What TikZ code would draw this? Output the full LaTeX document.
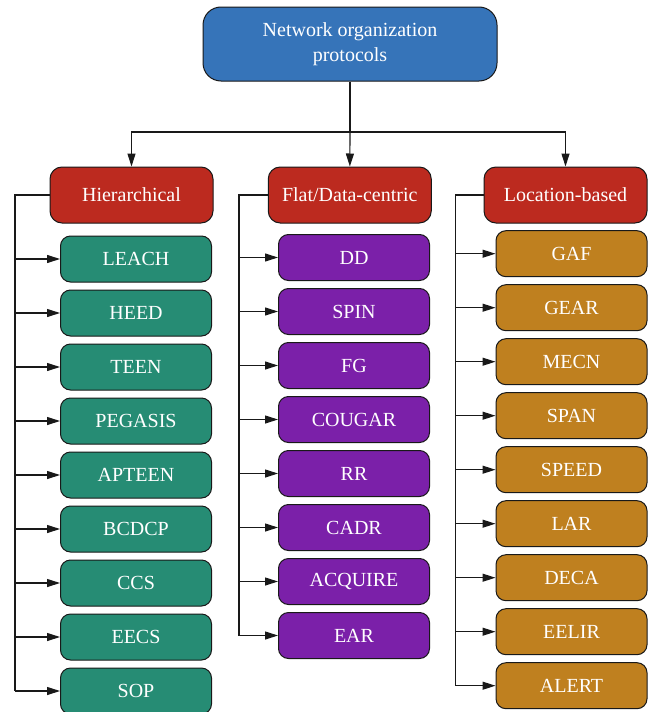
\documentclass[tikz,border=0pt]{standalone}
\usepackage{fontspec}
\setmainfont{Liberation Serif}
\usetikzlibrary{arrows.meta}
\definecolor{cblue}{HTML}{3674B9}
\definecolor{cred}{HTML}{BC2A1F}
\definecolor{cgreen}{HTML}{268C74}
\definecolor{cpurple}{HTML}{7B20A9}
\definecolor{corange}{HTML}{BF801F}
\begin{document}
\begin{tikzpicture}[x=1pt,y=1pt,
  box/.style={draw=black!90, line width=1pt, rounded corners=10pt, text=white,
    font=\fontsize{20}{25}\selectfont, align=center, inner sep=0pt},
  child/.style={box, minimum width=151pt, minimum height=46pt},
  cat/.style={box, fill=cred, minimum width=163pt, minimum height=56pt, rounded corners=12pt},
  conn/.style={line width=1.1pt, draw=black!90},
  arr/.style={conn, -{Triangle[length=13pt,width=8pt]}}]
\useasboundingbox (0,0) rectangle (648,-712);
\fill[white] (0,0) rectangle (648,-712);
\node[box, fill=cblue, minimum width=294pt, minimum height=74pt, rounded corners=18pt] (root) at (350,-44) {Network organization\\protocols};
\node[cat] (hier) at (131.5,-195) {Hierarchical};
\node[cat] (flat) at (349.75,-195) {Flat/Data-centric};
\node[cat] (loc) at (565.5,-195) {Location-based};
\coordinate (hub) at (350,-132);
\draw[conn] (root) -- (hub);
\draw[arr] (hub) -| (hier);
\draw[arr] (hub) -- (flat);
\draw[arr] (hub) -| (loc);
% Hierarchical
\foreach \t [count=\i from 0] in {LEACH,HEED,TEEN,PEGASIS,APTEEN,BCDCP,CCS,EECS,SOP}
  \node[child, fill=cgreen] (h\i) at (136,-259-54*\i) {\t};
% Flat
\foreach \t [count=\i from 0] in {DD,SPIN,FG,COUGAR,RR,CADR,ACQUIRE,EAR}
  \node[child, fill=cpurple] (f\i) at (354,-257.5-54*\i) {\t};
% Location
\foreach \t [count=\i from 0] in {GAF,GEAR,MECN,SPAN,SPEED,LAR,DECA,EELIR,ALERT}
  \node[child, fill=corange] (l\i) at (571.5,-253.7-54*\i) {\t};
% side connectors
\coordinate (hl) at (15,-195);
\coordinate (fl) at (239,-195);
\coordinate (ll) at (455.5,-195);
\draw[conn] (hier.west) -- (hl) -- (hl |- h8.west);
\draw[conn] (flat.west) -- (fl) -- (fl |- f7.west);
\draw[conn] (loc.west) -- (ll) -- (ll |- l8.west);
\foreach \i in {0,...,8} \draw[arr] (hl |- h\i.west) -- (h\i.west);
\foreach \i in {0,...,7} \draw[arr] (fl |- f\i.west) -- (f\i.west);
\foreach \i in {0,...,8} \draw[arr] (ll |- l\i.west) -- (l\i.west);
\end{tikzpicture}
\end{document}
